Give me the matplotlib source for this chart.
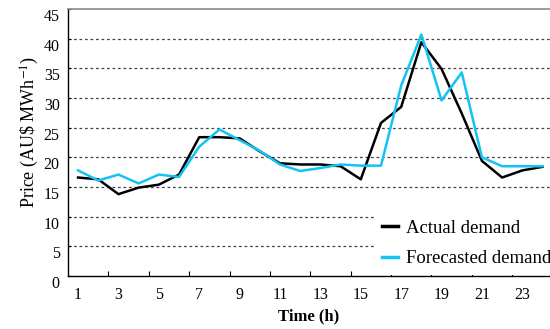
import numpy as np
import matplotlib
matplotlib.use('Agg')
import matplotlib.pyplot as plt
from matplotlib.transforms import ScaledTranslation

plt.rcParams['font.family'] = ['Liberation Serif', 'DejaVu Serif']
plt.rcParams['mathtext.fontset'] = 'stix'

# Hourly price, actual vs forecasted demand
hours = np.arange(1, 25)
actual_price = [16.6, 16.3, 13.8, 14.9, 15.4, 17.1, 23.4, 23.4, 23.2, 21.0, 19.0, 18.8,
                18.8, 18.5, 16.3, 25.8, 28.5, 39.4, 34.9, 27.4, 19.4, 16.6, 17.8, 18.4]
forecast_price = [17.8, 16.1, 17.1, 15.6, 17.1, 16.7, 21.8, 24.7, 22.9, 21.1, 18.8, 17.7,
                  18.2, 18.8, 18.6, 18.6, 32.1, 40.7, 29.6, 34.3, 20.0, 18.5, 18.5, 18.5]
hour_labels = [str(h) for h in range(1, 24, 2)]
y_ticks = list(range(0, 50, 5))

fig = plt.figure(figsize=(5.5, 3.29), dpi=100)
ax = fig.add_axes([0.1236, 0.161, 0.8764, 0.8116])

ax.plot(hours, actual_price, color='black', linewidth=1.8, label='Actual demand', zorder=3)
ax.plot(hours, forecast_price, color='#12C3F4', linewidth=1.8, label='Forecasted demand', zorder=4)

ax.set_xlim(0.5, 24.37)
ax.set_ylim(0, 45)

# dashed horizontal grid, skipping the axis and the top border
for yv in y_ticks[1:-1]:
    ax.axhline(yv, color='#444444', linewidth=0.9, linestyle=(0, (2.2, 2.2)), zorder=1)

ax.set_yticks(y_ticks)
ax.set_yticklabels([str(v) for v in y_ticks])
ax.tick_params(axis='y', direction='in', length=2.5, pad=6, labelsize=11.5, width=0.8)
shift = ScaledTranslation(0, -0.06, fig.dpi_scale_trans)
for lbl in ax.get_yticklabels():
    lbl.set_transform(lbl.get_transform() + shift)

# labels sit on odd hours, tick marks between categories
ax.set_xticks(np.arange(1, 24, 2))
ax.set_xticklabels(hour_labels)
ax.set_xticks(np.arange(2.5, 23, 2), minor=True)
ax.tick_params(axis='x', which='major', length=0, pad=8, labelsize=11.5)
ax.tick_params(axis='x', which='minor', direction='in', length=3.5, width=0.8)

ax.spines['right'].set_visible(False)
ax.spines['top'].set_color('#8a8a8a')
ax.spines['top'].set_linewidth(1.2)
ax.spines['left'].set_linewidth(1.0)
ax.spines['bottom'].set_linewidth(1.0)

ax.set_xlabel('Time (h)', fontsize=12, fontweight='bold', labelpad=4)
ax.set_ylabel('Price (AU\\$ MWh$^{-1}$)', fontsize=13)
ax.yaxis.set_label_coords(-0.056, 0.54)

leg = ax.legend(loc='upper left', bbox_to_anchor=(0.635, 0.24), fontsize=13.5,
                frameon=True, fancybox=False, framealpha=1, edgecolor='none',
                facecolor='white', handlelength=0.9, handletextpad=0.4,
                labelspacing=0.72, borderpad=0.4, borderaxespad=0)
for line in leg.get_lines():
    line.set_linewidth(2.5)
leg.set_zorder(5)

fig.savefig('out.png', dpi=100)
